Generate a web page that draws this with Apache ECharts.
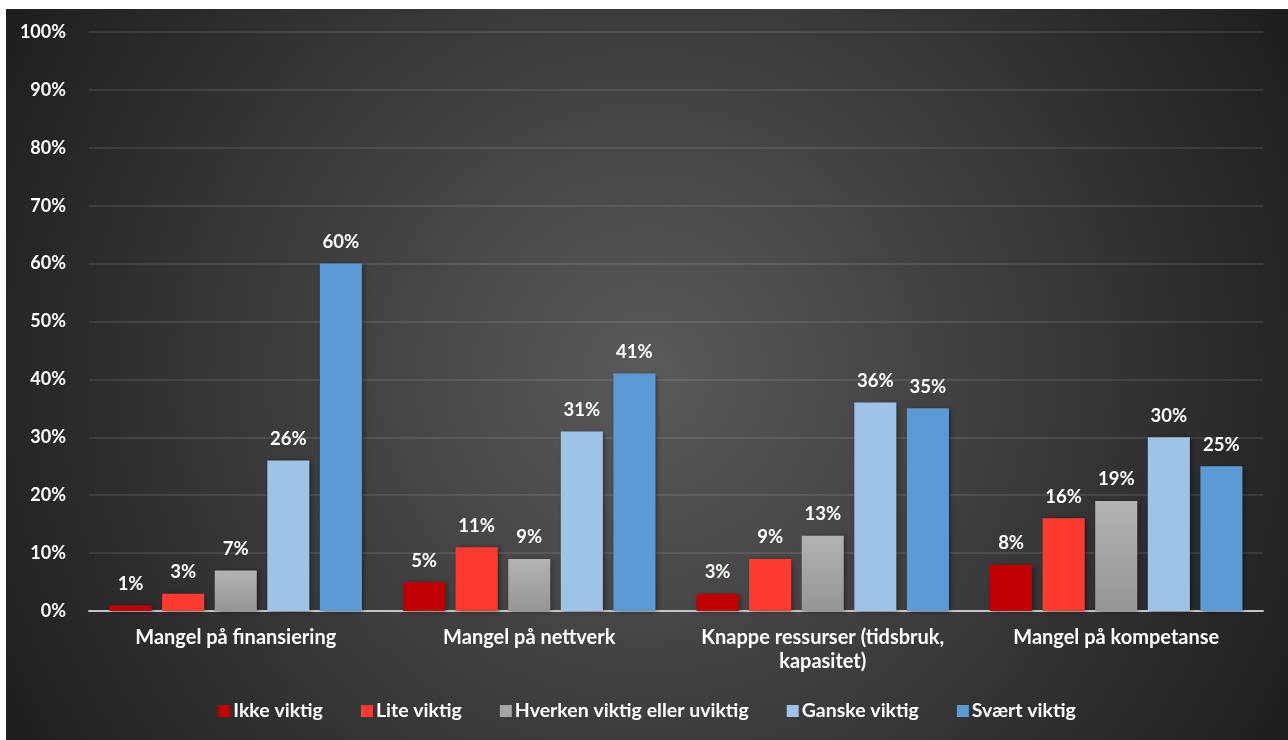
<!DOCTYPE html>
<html>
<head>
<meta charset="utf-8">
<script src="https://cdn.jsdelivr.net/npm/echarts@6/dist/echarts.min.js"></script>
<style>
  html, body { margin: 0; padding: 0; background: #ffffff; }
  #chart { position: absolute; left: 6px; top: 9px; width: 1282px; height: 731px; }
</style>
</head>
<body>
<div id="chart"></div>
<script>
// Barrierer, andel svar per kategori (prosent)
const categories = [
  'Mangel på finansiering',
  'Mangel på nettverk',
  'Knappe ressurser (tidsbruk,\nkapasitet)',
  'Mangel på kompetanse'
];
const seriesNames = ['Ikke viktig', 'Lite viktig', 'Hverken viktig eller uviktig', 'Ganske viktig', 'Svært viktig'];
const ikkeViktig   = [1, 5, 3, 8];
const liteViktig   = [3, 11, 9, 16];
const hverken      = [7, 9, 13, 19];
const ganskeViktig = [26, 31, 36, 30];
const svaertViktig = [60, 41, 35, 25];
const yTicks = [0, 10, 20, 30, 40, 50, 60, 70, 80, 90, 100];

const FONT = 'Lato, "Open Sans", sans-serif';

const fills = [
  '#c00000',
  '#ff3b2f',
  { type: 'linear', x: 0, y: 0, x2: 0, y2: 1, colorStops: [
      { offset: 0, color: '#b3b3b3' }, { offset: 1, color: '#959595' } ] },
  '#9dc3e6',
  '#5b9bd5'
];
const legendFills = ['#c00000', '#ff3b2f', '#a6a6a6', '#9dc3e6', '#5b9bd5'];
const values = [ikkeViktig, liteViktig, hverken, ganskeViktig, svaertViktig];

const chart = echarts.init(document.getElementById('chart'));
chart.setOption({
  backgroundColor: {
    type: 'radial', x: 0.5, y: 0.5, r: 1,
    colorStops: [
      { offset: 0, color: '#5a5a5a' },
      { offset: 1, color: '#1e1e1e' }
    ]
  },
  textStyle: { fontFamily: FONT },
  grid: { left: 83, right: 25, top: 23, bottom: 129 },
  legend: {
    bottom: 14,
    left: 'center',
    itemWidth: 12,
    itemHeight: 12,
    itemGap: 38,
    icon: 'rect',
    textStyle: { color: '#ffffff', fontSize: 19.5, fontWeight: 'bold', fontFamily: FONT, padding: [0, 0, 0, -2] },
    data: seriesNames.map((n, i) => ({ name: n, itemStyle: { color: legendFills[i] } }))
  },
  xAxis: {
    type: 'category',
    data: categories,
    axisTick: { show: false },
    axisLine: { show: true, lineStyle: { color: '#c4c4c4', width: 2 } },
    axisLabel: {
      color: '#ffffff', fontSize: 20, fontWeight: 'bold', fontFamily: FONT,
      margin: 15, lineHeight: 24, interval: 0
    }
  },
  yAxis: {
    type: 'value',
    min: yTicks[0],
    max: yTicks[yTicks.length - 1],
    interval: yTicks[1] - yTicks[0],
    axisLine: { show: false },
    axisTick: { show: false },
    splitLine: { lineStyle: { color: 'rgba(255,255,255,0.13)', width: 1.5 } },
    axisLabel: {
      color: '#ffffff', fontSize: 18, fontWeight: 'bold', fontFamily: FONT,
      margin: 23, formatter: v => v + '%'
    }
  },
  series: seriesNames.map((name, i) => ({
    name: name,
    type: 'bar',
    data: values[i],
    barGap: '25%',
    barCategoryGap: '14%',
    itemStyle: {
      color: fills[i],
      shadowColor: 'rgba(0,0,0,0.45)',
      shadowBlur: 5,
      shadowOffsetX: 2,
      shadowOffsetY: 1
    },
    label: {
      show: true,
      position: 'top',
      distance: 12,
      color: '#ffffff',
      fontSize: 18.5,
      fontWeight: 'bold',
      fontFamily: FONT,
      formatter: p => p.value + '%'
    }
  }))
});
</script>
</body>
</html>
